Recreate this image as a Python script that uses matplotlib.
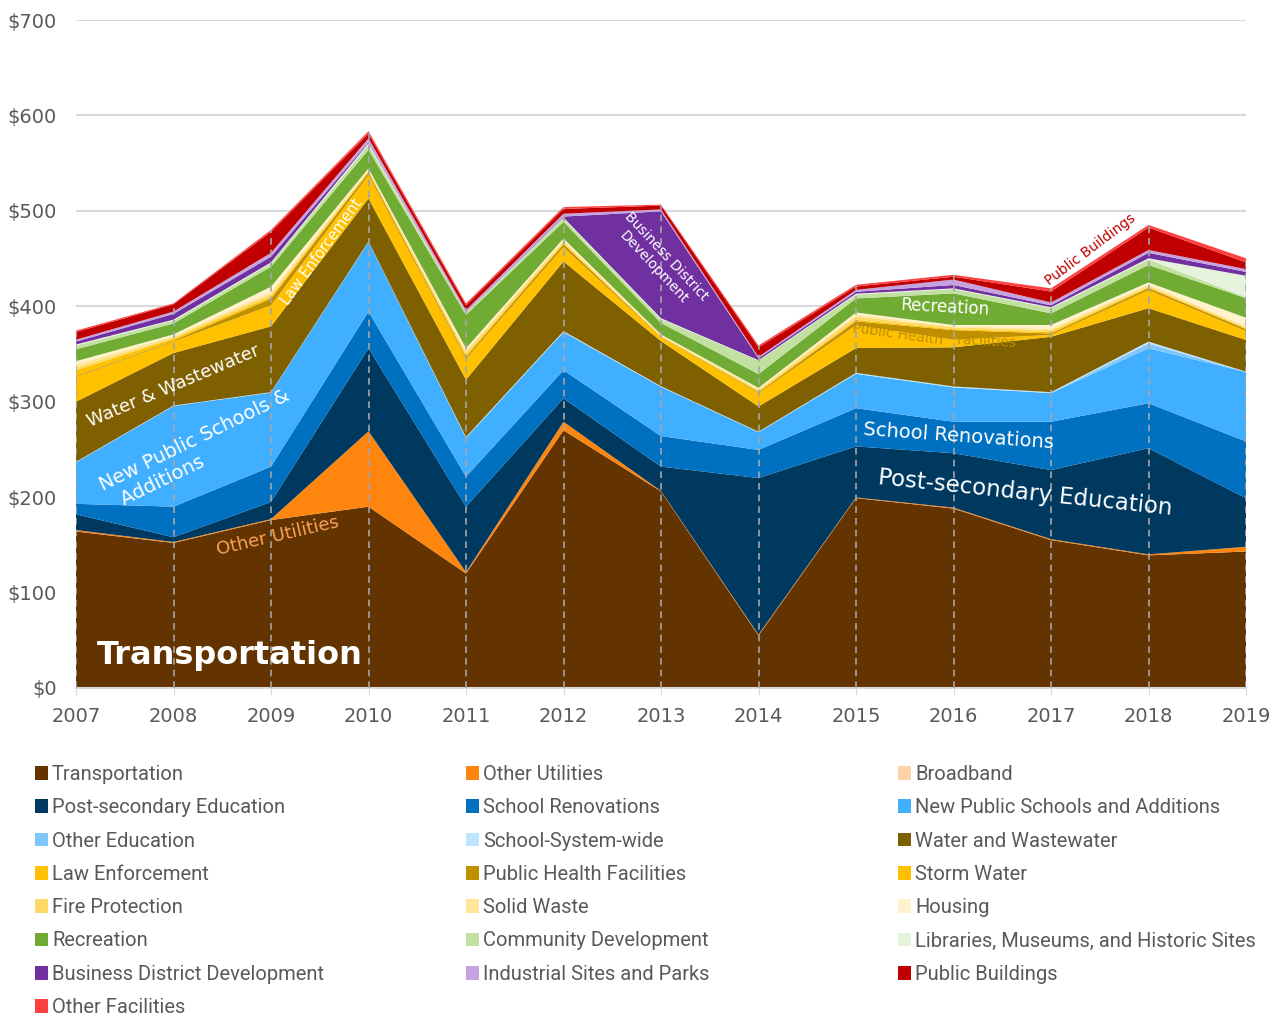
import numpy as np
import matplotlib
matplotlib.use("Agg")
import matplotlib.pyplot as plt
from matplotlib.patches import Patch

years = [2007, 2008, 2009, 2010, 2011, 2012, 2013, 2014, 2015, 2016, 2017, 2018, 2019]

# values in $ millions
transportation = [164, 152, 176, 190, 120, 270, 206, 55, 199, 188, 155, 139, 143]
other_utilities = [1.5, 1, 1, 79, 1.5, 9, 0.5, 1, 0.7, 1, 1, 1, 5]
broadband = [0, 0, 0, 0, 0, 0, 0, 0, 0, 0, 0, 0, 0]
post_secondary = [16.5, 5, 18, 87, 68.5, 24.5, 25.5, 164, 53.5, 57, 72.4, 111.3, 50.8]
school_renovations = [11, 32, 37, 38.5, 31.5, 29.5, 32, 29.5, 40, 33, 50.6, 47.1, 59.6]
new_public_schools = [43.5, 105.5, 77.5, 73, 40.5, 40, 51.5, 18.5, 36, 36, 30, 57.6, 72.6]
other_education = [0, 0, 0, 0, 0, 0, 0, 0, 0, 0, 0, 5, 0]
school_system_wide = [0.5, 0.5, 0.5, 0.5, 1, 1, 0.7, 0.6, 1, 1, 1, 2, 0.5]
water_wastewater = [63, 55, 69, 45, 60, 73, 47.3, 26.4, 26, 41, 58, 35, 33.2]
law_enforcement = [26, 12, 22, 24.5, 22, 15, 4, 14, 24, 8, 2, 19, 9.3]
public_health = [1, 1, 7, 2.5, 2, 3, 0.5, 1, 4, 10, 1.5, 2, 2]
storm_water = [6, 2, 2, 1, 2, 1, 0.5, 1, 1.6, 1, 1.5, 1, 1]
fire_protection = [3, 1.5, 3, 1.5, 3, 2, 1, 1.5, 3.4, 2, 2, 1.5, 1]
solid_waste = [3, 1.5, 2, 1, 2, 1.5, 0.5, 1, 2, 1, 1.5, 1.5, 1]
housing = [3.5, 1.5, 5.5, 1, 2, 1.5, 0.5, 1, 2.3, 1.4, 3.9, 2, 9]
recreation = [12.5, 11.5, 21, 19.5, 35, 17.5, 12, 14.5, 14.7, 33.1, 12.2, 18.3, 20.5]
community_dev = [4, 3, 3.5, 5, 2, 3.5, 4, 14, 4, 4.5, 5.4, 5.7, 1]
libraries = [1, 1, 1, 2, 0.5, 1, 1, 0.5, 1, 0.8, 1, 1.3, 22.5]
business_district = [3, 6, 6, 1, 0.5, 1, 112, 2, 2, 3.5, 2, 5.7, 4]
industrial_sites = [2, 2.5, 4, 4, 2, 3, 2, 1.5, 2, 5.7, 3, 3, 3]
public_buildings = [8, 7.5, 22, 5, 5, 5, 4, 10, 3.5, 3, 11.5, 23.5, 7]
other_facilities = [1.5, 1, 2, 2.5, 2, 2, 1, 2, 1.8, 2, 3.3, 2.7, 4.3]

series = [
    ("Transportation", transportation, "#633300"),
    ("Other Utilities", other_utilities, "#FF860E"),
    ("Broadband", broadband, "#FFD3A8"),
    ("Post-secondary Education", post_secondary, "#00395F"),
    ("School Renovations", school_renovations, "#0070C0"),
    ("New Public Schools and Additions", new_public_schools, "#41AFFF"),
    ("Other Education", other_education, "#80C6FA"),
    ("School-System-wide", school_system_wide, "#BFE4FF"),
    ("Water and Wastewater", water_wastewater, "#7F6000"),
    ("Law Enforcement", law_enforcement, "#FFC000"),
    ("Public Health Facilities", public_health, "#BF8F00"),
    ("Storm Water", storm_water, "#FFC000"),
    ("Fire Protection", fire_protection, "#FFD966"),
    ("Solid Waste", solid_waste, "#FFE699"),
    ("Housing", housing, "#FFF2CC"),
    ("Recreation", recreation, "#70AC34"),
    ("Community Development", community_dev, "#C2E1A0"),
    ("Libraries, Museums, and Historic Sites", libraries, "#E6F3DC"),
    ("Business District Development", business_district, "#7030A0"),
    ("Industrial Sites and Parks", industrial_sites, "#C7A2E0"),
    ("Public Buildings", public_buildings, "#C00000"),
    ("Other Facilities", other_facilities, "#FF4040"),
]

labels = [s[0] for s in series]
values = np.array([s[1] for s in series], dtype=float)
colors = [s[2] for s in series]

fig = plt.figure(figsize=(12.81, 10.21), dpi=100)
ax = fig.add_axes([76 / 1281, 1 - 688 / 1021, 1170 / 1281, 668 / 1021])

ax.stackplot(years, values, colors=colors, linewidth=0, zorder=2)

totals = values.sum(axis=0)
ax.vlines(years, 0, totals, colors="#A6A6A6", linestyles=(0, (4, 3)), lw=1.2, zorder=3)

ax.set_xlim(2007, 2019)
ax.set_ylim(0, 700)
ax.set_xticks(years)
ax.set_yticks(range(0, 701, 100))
ax.set_yticklabels(["$%d" % v for v in range(0, 701, 100)])
ax.grid(axis="y", color="#D9D9D9", lw=1.5)
ax.set_axisbelow(True)
for side in ["top", "right", "left"]:
    ax.spines[side].set_visible(False)
ax.spines["bottom"].set_color("#D9D9D9")
ax.spines["bottom"].set_linewidth(1.5)
ax.tick_params(axis="y", length=0, pad=14, labelsize=14, labelcolor="#595959")
ax.tick_params(axis="x", length=5, color="#D9D9D9", pad=9, labelsize=14, labelcolor="#595959")

# labels inside the areas
ax.text(2007.215, 34, "Transportation", color="white", fontsize=23, fontweight="bold",
        ha="left", va="center", zorder=5)
ax.text(2008.0, 316, "Water & Wastewater", color="white", fontsize=13, rotation=23,
        ha="center", va="center", zorder=5)
ax.text(2008.27, 249, "New Public Schools &\n  Additions", color="white", fontsize=14, rotation=26,
        ha="center", va="center", multialignment="left", zorder=5)
ax.text(2009.07, 159, "Other Utilities", color="#F8A45A", fontsize=13, rotation=13,
        ha="center", va="center", zorder=5)
ax.text(2009.52, 457, "Law Enforcement", color="white", fontsize=10.5, rotation=54,
        ha="center", va="center", zorder=5)
ax.text(2012.99, 446, "Business District\nDevelopment", color="white", fontsize=10, rotation=-47,
        ha="center", va="center", zorder=5)
ax.text(2015.91, 399, "Recreation", color="white", fontsize=12, rotation=-3,
        ha="center", va="center", zorder=5)
ax.text(2015.43, 371, "Public Health", color="#BF8F00", fontsize=10, rotation=-8,
        ha="center", va="center", zorder=5)
ax.text(2016.34, 363.5, "Facilities", color="#BF8F00", fontsize=10, rotation=-3,
        ha="center", va="center", zorder=5)
ax.text(2016.05, 264, "School Renovations", color="white", fontsize=14, rotation=-4,
        ha="center", va="center", zorder=5)
ax.text(2016.74, 204, "Post-secondary Education", color="white", fontsize=16.5, rotation=-6,
        ha="center", va="center", zorder=5)
ax.text(2017.4, 459, "Public Buildings", color="#C00000", fontsize=10, rotation=37,
        ha="center", va="center", zorder=5)

# legend: three columns, filled row by row
handles = [Patch(facecolor=c, edgecolor="none") for c in colors]
col_x = [35, 466, 898]
for k in range(3):
    idx = list(range(k, len(series), 3))
    leg = fig.legend([handles[i] for i in idx], [labels[i] for i in idx],
                     loc="upper left", bbox_to_anchor=(col_x[k] / 1281, 1 - 765 / 1021),
                     frameon=False, ncol=1, labelspacing=0.71,
                     handlelength=0.66, handleheight=0.66, handletextpad=0.18,
                     borderaxespad=0, borderpad=0,
                     prop={"family": ["Roboto", "DejaVu Sans"], "size": 14.5})
    for t in leg.get_texts():
        t.set_color("#595959")

fig.savefig("out.png", dpi=100)
